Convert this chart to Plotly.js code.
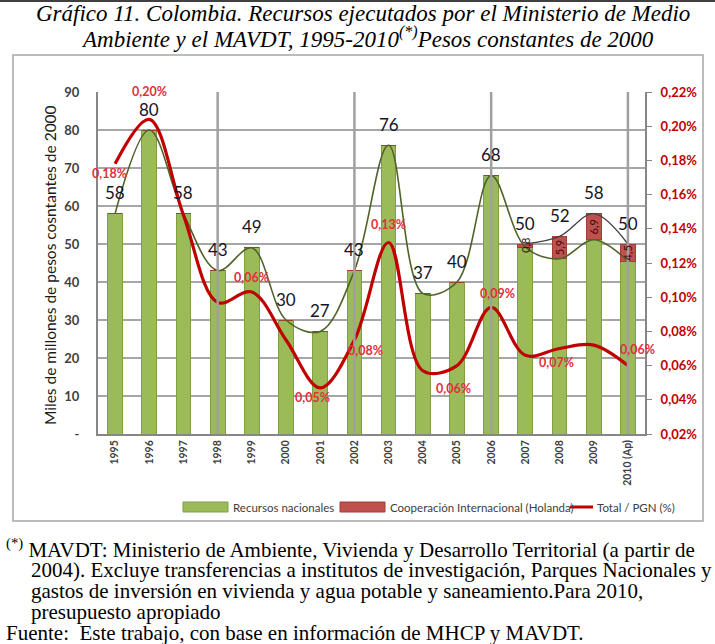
<!DOCTYPE html>
<html>
<head>
<meta charset="utf-8">
<script src="https://cdn.plot.ly/plotly-3.0.1.min.js"></script>
<style>
  html, body { margin: 0; padding: 0; background: #ffffff; }
  #chart { width: 715px; height: 644px; }
</style>
</head>
<body>
<div id="chart"></div>
<script>
// ---------------- DATA ----------------
const years = ['1995','1996','1997','1998','1999','2000','2001','2002','2003','2004','2005','2006','2007','2008','2009','2010 (Ap)'];
const nacionales = [58, 80, 58, 43, 49, 30, 27, 43, 76, 37, 40, 68, 49.2, 46.1, 51.1, 45.5];
const cooperacion = [0, 0, 0, 0, 0, 0, 0, 0, 0, 0, 0, 0, 0.8, 5.9, 6.9, 4.5];
const totalLabels = ['58','80','58','43','49','30','27','43','76','37','40','68','50','52','58','50'];
const coopLabels = ['','','','','','','','','','','','','0,8','5,9','6,9','4,5'];
const pctPGN = [0.178, 0.204, 0.148, 0.097, 0.103, 0.075, 0.047, 0.075, 0.132, 0.057, 0.060, 0.094, 0.066, 0.070, 0.072, 0.060];
const pctLabels = ['0,18%','0,20%','','','0,06%','','0,05%','0,08%','0,13%','0,06%','','0,09%','','0,07%','','0,06%'];
const leftTickVals = [0, 10, 20, 30, 40, 50, 60, 70, 80, 90];
const leftTickText = ['-', '10', '20', '30', '40', '50', '60', '70', '80', '90'];
const rightTickVals = [0.02, 0.04, 0.06, 0.08, 0.10, 0.12, 0.14, 0.16, 0.18, 0.20, 0.22];
const rightTickText = ['0,02%','0,04%','0,06%','0,08%','0,10%','0,12%','0,14%','0,16%','0,18%','0,20%','0,22%'];
const legendNames = ['Recursos nacionales', 'Cooperación Internacional (Holanda)', 'Total / PGN (%)'];

// label offsets (pixels) for the percentage labels
const pctOffX = [-6, 0, 0, 0, 0, 0, -8, 11, 0, 31, 0, 6, 0, -3, 0, 10];
const pctOffY = [-10, 28, 0, 0, 15, 0, -10, -11, 18, -18, 0, 14, 0, -14, 0, 16];

// ---------------- GEOMETRY HELPERS ----------------
const L = 98, R = 645, T = 92, B = 434;
const px = x => (x - L) / (R - L);
const py = y => (B - y) / (B - T);

const idx = years.map((_, i) => i);
const totals = nacionales.map((v, i) => v + cooperacion[i]);
const coopIdx = idx.filter(i => cooperacion[i] > 0);

const fontSans = 'Lato, Carlito, Calibri, "Open Sans", sans-serif';
const fontSerif = '"Liberation Serif", "Times New Roman", serif';
const GREEN = '#9BBB59', RED = '#C0504D', LINE_RED = '#C00000';

// ---------------- TRACES ----------------
const traces = [
  {
    type: 'bar', name: legendNames[0], x: idx, y: nacionales,
    marker: { color: GREEN, line: { color: '#7F9F42', width: 1 } }, showlegend: false
  },
  {
    type: 'bar', name: legendNames[1], x: idx, y: cooperacion,
    marker: { color: RED, line: { color: '#A33C39', width: 1 } }, showlegend: false
  },
  {
    type: 'scatter', mode: 'lines', x: idx, y: nacionales,
    line: { color: '#4F6228', width: 1.6, shape: 'spline', smoothing: 1 }, showlegend: false
  },
  {
    type: 'scatter', mode: 'lines', x: coopIdx, y: coopIdx.map(i => totals[i]),
    line: { color: '#404040', width: 1.3, shape: 'spline', smoothing: 1 }, showlegend: false
  },
  {
    type: 'scatter', mode: 'lines', name: legendNames[2], x: idx, y: pctPGN, yaxis: 'y2',
    line: { color: LINE_RED, width: 3.2, shape: 'spline', smoothing: 1 }, showlegend: false
  }
];

// ---------------- ANNOTATIONS ----------------
const annotations = [];
idx.forEach(i => {
  annotations.push({
    x: i, y: totals[i], xref: 'x', yref: 'y', text: totalLabels[i],
    showarrow: false, yshift: 21, font: { family: fontSans, size: 17, color: '#141428' }
  });
  if (coopLabels[i]) {
    annotations.push({
      x: i, y: nacionales[i] + cooperacion[i] / 2, xref: 'x', yref: 'y', text: coopLabels[i],
      showarrow: false, textangle: -90, font: { family: fontSans, size: 11, color: '#3A0E0E' }
    });
  }
  if (pctLabels[i]) {
    annotations.push({
      x: i, y: pctPGN[i], xref: 'x', yref: 'y2', text: '<b>' + pctLabels[i] + '</b>',
      showarrow: false, xshift: pctOffX[i], yshift: pctOffY[i],
      font: { family: fontSans, size: 12.5, color: '#E0303C' }
    });
  }
});

// y axis title
annotations.push({
  xref: 'paper', yref: 'paper', x: px(50), y: py(265), xanchor: 'center', yanchor: 'middle',
  text: 'Miles de millones de pesos cosntantes de 2000',
  textangle: -90, showarrow: false, font: { family: fontSans, size: 15.5, color: '#1a1a1a' }
});

// chart title
annotations.push({
  xref: 'paper', yref: 'paper', x: px(363), y: py(14), xanchor: 'center', yanchor: 'middle',
  text: '<i>Gráfico 11. Colombia. Recursos ejecutados por el Ministerio de Medio</i>',
  showarrow: false, font: { family: fontSerif, size: 23, color: '#000' }
});
annotations.push({
  xref: 'paper', yref: 'paper', x: px(367), y: py(38), xanchor: 'center', yanchor: 'middle',
  text: '<i>Ambiente y el MAVDT, 1995-2010<sup>(*)</sup>Pesos constantes de 2000</i>',
  showarrow: false, font: { family: fontSerif, size: 23, color: '#000' }
});

// footnotes
const notes = [
  { x: 4, y: 548, t: '<sup>(*)</sup> MAVDT: Ministerio de Ambiente, Vivienda y Desarrollo Territorial (a partir de' },
  { x: 29, y: 570, t: '2004). Excluye transferencias a institutos de investigación, Parques Nacionales y' },
  { x: 29, y: 591, t: 'gastos de inversión en vivienda y agua potable y saneamiento.Para 2010,' },
  { x: 29, y: 612, t: 'presupuesto apropiado' },
  { x: 4, y: 633, t: 'Fuente:  Este trabajo, con base en información de MHCP y MAVDT.' }
];
notes.forEach(n => annotations.push({
  xref: 'paper', yref: 'paper', x: px(n.x), y: py(n.y), xanchor: 'left', yanchor: 'middle',
  text: n.t, showarrow: false, font: { family: fontSerif, size: 21, color: '#000' }
}));

// ---------------- SHAPES ----------------
const shapes = [];
for (let i = 3; i < years.length; i += 4) {
  shapes.push({
    type: 'line', xref: 'x', yref: 'paper', x0: i, x1: i, y0: 0, y1: 1,
    line: { color: '#A0A0A0', width: 2.5 }, layer: 'above'
  });
}
// chart border box
shapes.push({
  type: 'rect', xref: 'paper', yref: 'paper', x0: px(13), x1: px(703), y0: py(521), y1: py(55),
  line: { color: '#A6A6A6', width: 1.5 }, fillcolor: 'rgba(0,0,0,0)', layer: 'below'
});
// top rule
shapes.push({
  type: 'line', xref: 'paper', yref: 'paper', x0: px(0), x1: px(715), y0: py(1), y1: py(1),
  line: { color: '#000', width: 1.5 }
});

// custom legend (wide swatches like the original)
const legY = 507;
const leg = [
  { kind: 'box', color: GREEN, border: '#7F9F42', x0: 183, x1: 228, tx: 231 },
  { kind: 'box', color: RED, border: '#A33C39', x0: 340, x1: 385, tx: 388 },
  { kind: 'line', color: LINE_RED, x0: 570, x1: 593, tx: 595 }
];
leg.forEach((g, k) => {
  if (g.kind === 'box') {
    shapes.push({ type: 'rect', xref: 'paper', yref: 'paper', x0: px(g.x0), x1: px(g.x1), y0: py(legY + 5), y1: py(legY - 5),
      fillcolor: g.color, line: { color: g.border, width: 1 } });
  } else {
    shapes.push({ type: 'line', xref: 'paper', yref: 'paper', x0: px(g.x0), x1: px(g.x1), y0: py(legY), y1: py(legY),
      line: { color: g.color, width: 3 } });
  }
  annotations.push({ xref: 'paper', yref: 'paper', x: px(g.tx), y: py(legY), xanchor: 'left', yanchor: 'middle',
    text: legendNames[k], showarrow: false, font: { family: fontSans, size: 11.5, color: '#404040' } });
});

// ---------------- LAYOUT ----------------
const layout = {
  width: 715, height: 644,
  margin: { l: L, r: 715 - R, t: T, b: 644 - B, pad: 0 },
  paper_bgcolor: '#ffffff', plot_bgcolor: '#ffffff',
  barmode: 'stack', bargap: 0.57,
  showlegend: false,
  xaxis: {
    range: [-0.5, years.length - 0.5], tickvals: idx, ticktext: years.map(y => '<b>' + y + '</b>'),
    tickangle: -90, showgrid: false, showline: true,
    linecolor: '#868686', linewidth: 2, ticks: '', zeroline: false,
    tickfont: { family: fontSans, size: 10.5, color: '#404040' },
    fixedrange: true
  },
  yaxis: {
    range: [0, 90], tickvals: leftTickVals, ticktext: leftTickText.map(t => '<b>' + t + '</b>'),
    showgrid: true, gridcolor: '#A6A6A6', gridwidth: 1.5,
    showline: true, linecolor: '#868686', linewidth: 2, zeroline: false,
    ticks: '', ticklabelstandoff: 14,
    tickfont: { family: fontSans, size: 13, color: '#404040' },
    fixedrange: true
  },
  yaxis2: {
    overlaying: 'y', side: 'right', range: [0.02, 0.22],
    tickvals: rightTickVals, ticktext: rightTickText.map(t => '<b>' + t + '</b>'),
    showgrid: false, showline: true, linecolor: '#868686', linewidth: 2, zeroline: false,
    ticks: 'outside', ticklen: 5, tickcolor: '#868686', tickwidth: 1,
    ticklabelstandoff: 6,
    tickfont: { family: fontSans, size: 13, color: '#C00000' },
    fixedrange: true
  },
  annotations: annotations,
  shapes: shapes
};

Plotly.newPlot('chart', traces, layout, { displayModeBar: false, staticPlot: true });
</script>
</body>
</html>
